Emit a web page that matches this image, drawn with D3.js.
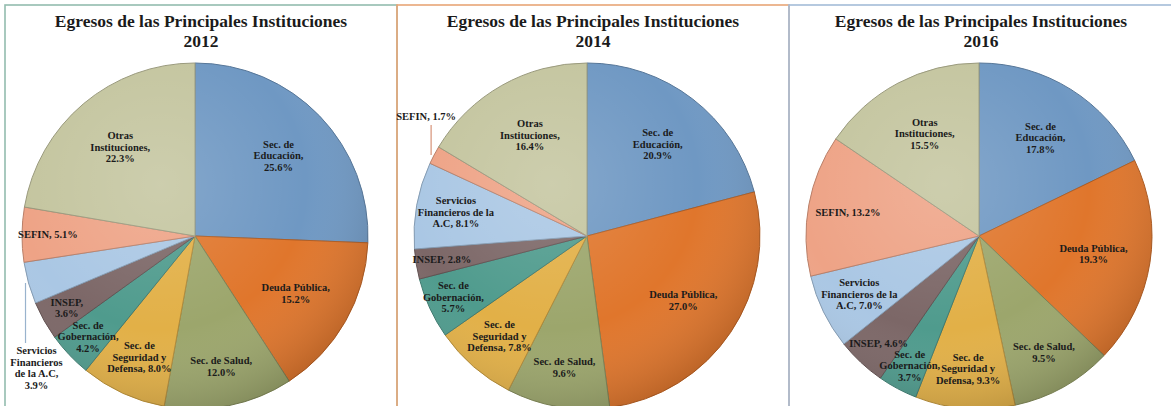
<!DOCTYPE html>
<html lang="es">
<head>
<meta charset="utf-8">
<script src="https://d3js.org/d3.v7.min.js"></script>
<style>
  body { margin: 0; background: #fff; }
  text { font-family: "Liberation Serif", "DejaVu Serif", serif; font-weight: bold; fill: #1b1b1b; }
</style>
</head>
<body>
<div id="graficas"></div>
<script>
// datos (porcentajes, en sentido horario desde las 12)
const anios = ["2012", "2014", "2016"];
const categorias = ["Sec. de Educación", "Deuda Pública", "Sec. de Salud", "Sec. de Seguridad y Defensa",
  "Sec. de Gobernación", "INSEP", "Servicios Financieros de la A.C", "SEFIN", "Otras Instituciones"];
const valores2012 = [25.6, 15.2, 12.0, 8.0, 4.2, 3.6, 3.9, 5.1, 22.3];
const valores2014 = [20.9, 27.0, 9.6, 7.8, 5.7, 2.8, 8.1, 1.7, 16.4];
const valores2016 = [17.8, 19.3, 9.5, 9.3, 3.7, 4.6, 7.0, 13.2, 15.5];
const colores = ["#6f98c3", "#e0762c", "#9ca66c", "#e2b047", "#4f9b8d", "#7c6767", "#aac7e4", "#eea386", "#c4c59f"];

// etiquetas tal como se cortan en el original
const etiquetas = ["Sec. de\nEducación,", "Deuda Pública,", "Sec. de Salud,", "Sec. de\nSeguridad y\nDefensa,",
  "Sec. de\nGobernación,", "INSEP,", "Servicios\nFinancieros de la\nA.C,", "SEFIN,", "Otras\nInstituciones,"];
const mismaLinea = [false, false, false, true, false, true, true, true, false];
const etiquetasEspeciales = { "2012-5": "INSEP,\n", "2012-6": "Servicios\nFinancieros\nde la A.C,\n" };
const fueraDelPastel = { "2012-6": { largo: 60, dx: 8 }, "2014-7": { largo: -30, dx: -8 } };

const valores = { "2012": valores2012, "2014": valores2014, "2016": valores2016 };
const bordes = ["#93bcae", "#e8a677", "#a4bcd8"];

const W = 1171, H = 406;
const svg = d3.select("#graficas").append("svg").attr("width", W).attr("height", H);

const paneles = d3.scaleBand().domain(anios).range([5, 1181]).paddingInner(0);
const radio = 173;
const fmt = d3.format(".1f");
const lh = 11.5;

// sombreado general
const defs = svg.append("defs");
const grad = defs.append("radialGradient").attr("id", "sombra").attr("cx", "40%").attr("cy", "35%").attr("r", "70%");
grad.append("stop").attr("offset", "0%").attr("stop-color", "#fff").attr("stop-opacity", 0.15);
grad.append("stop").attr("offset", "60%").attr("stop-color", "#fff").attr("stop-opacity", 0);
grad.append("stop").attr("offset", "100%").attr("stop-color", "#000").attr("stop-opacity", 0.18);

const pie = d3.pie().sort(null).value(d => d.v);
const arco = d3.arc().innerRadius(0).outerRadius(radio);

anios.forEach((anio, i) => {
  const x0 = paneles(anio), bw = paneles.bandwidth();
  const g = svg.append("g");
  // marco del panel
  g.append("rect").attr("x", x0).attr("y", 5).attr("width", bw).attr("height", H + 20)
    .attr("fill", "none").attr("stroke", bordes[i]).attr("stroke-width", 1.6);

  const mx = x0 + bw / 2;
  const cx = mx - 6, cy = 236;
  g.append("text").attr("x", mx - (i == 2 ? 4 : 0)).attr("y", 27).attr("text-anchor", "middle")
    .style("font-size", "17.5px").text("Egresos de las Principales Instituciones");
  g.append("text").attr("x", mx - (i == 2 ? 4 : 0)).attr("y", 47).attr("text-anchor", "middle")
    .style("font-size", "17.5px").text(anio);

  const datos = categorias.map((c, k) => ({ c: c, v: valores[anio][k], k: k }));
  const arcos = pie(datos);
  const gp = g.append("g").attr("transform", `translate(${cx},${cy})`);

  gp.selectAll("path.rebanada").data(arcos).join("path").attr("class", "rebanada")
    .attr("d", arco)
    .attr("fill", d => colores[d.data.k])
    .attr("stroke", d => d3.color(colores[d.data.k]).darker(0.7))
    .attr("stroke-width", 1);
  gp.append("circle").attr("r", radio).attr("fill", "url(#sombra)").attr("stroke", "none");

  arcos.forEach(a => {
    const k = a.data.k, clave = anio + "-" + k;
    const pct = fmt(a.data.v) + "%";
    let txt = etiquetasEspeciales[clave] !== undefined ? etiquetasEspeciales[clave] + pct
      : etiquetas[k] + (mismaLinea[k] ? " " : "\n") + pct;
    const lineas = txt.split("\n");
    const medio = (a.startAngle + a.endAngle) / 2;
    let px, py, y0;
    const fuera = fueraDelPastel[clave];
    if (fuera) {
      const ex = Math.sin(medio) * radio, ey = -Math.cos(medio) * radio;
      gp.append("line").attr("x1", ex - 3).attr("y1", ey).attr("x2", ex - 3).attr("y2", ey + fuera.largo)
        .attr("stroke", d3.color(colores[k]).darker(0.3)).attr("stroke-width", 1.2);
      px = ex + fuera.dx;
      y0 = fuera.largo > 0 ? ey + fuera.largo + 11 : ey + fuera.largo - 5 - (lineas.length - 1) * lh;
    } else {
      const f = a.data.v >= 15 ? 0.67 : a.data.v >= 7 ? 0.77 : 0.85;
      px = Math.sin(medio) * radio * f;
      py = -Math.cos(medio) * radio * f;
      y0 = py - (lineas.length - 1) * lh / 2 + 3.5;
    }
    const t = gp.append("text").attr("text-anchor", "middle").style("font-size", "10.5px");
    lineas.forEach((l, j) => t.append("tspan").attr("x", px).attr("y", y0 + j * lh).text(l));
  });
});
</script>
</body>
</html>
